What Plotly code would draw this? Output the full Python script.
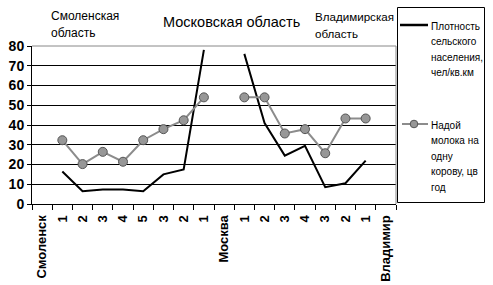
import plotly.graph_objects as go

categories = ["Смоленск", "1", "2", "3", "4", "5", "3", "2", "1", "Москва",
              "1", "2", "3", "4", "3", "2", "1", "Владимир"]
density = [None, 16.5, 6.5, 7.3, 7.3, 6.5, 15, 17.5, 78, None,
           76, 41, 24.5, 29.5, 8.5, 10.5, 22, None]
milk = [None, 32.3, 20.2, 26.4, 21.4, 32.3, 37.9, 42.4, 54, None,
        54, 54, 35.7, 37.9, 25.7, 43.3, 43.3, None]
y_ticks = [0, 10, 20, 30, 40, 50, 60, 70, 80]
legend_density = ["Плотность", "сельского", "населения,", "чел/кв.км"]
legend_milk = ["Надой", "молока на", "одну", "корову, цв", "год"]

xs = list(range(len(categories)))
FONT = "Liberation Sans, Arial, sans-serif"
BLACK_LINE = "black"
GRAY_LINE = "#8c8c8c"
MARKER_FILL = "#979797"
MARKER_EDGE = "#555555"

fig = go.Figure()
fig.add_trace(go.Scatter(x=xs, y=density, mode="lines", name=" ".join(legend_density),
                         line=dict(color=BLACK_LINE, width=2), showlegend=False,
                         connectgaps=False))
fig.add_trace(go.Scatter(x=xs, y=milk, mode="lines+markers", name=" ".join(legend_milk),
                         line=dict(color=GRAY_LINE, width=2), showlegend=False,
                         marker=dict(size=9, color=MARKER_FILL,
                                     line=dict(color=MARKER_EDGE, width=1)),
                         connectgaps=False))

W, H = 493, 285
L, R, T, B = 32, 97, 46, 81
pw, ph = W - L - R, H - T - B

def px(xp):
    return (xp - L) / pw

def py(yp):
    return (H - B - yp) / ph

ann_font = dict(family=FONT, size=12, color="black")
ann_font_r = dict(family=FONT, size=11.6, color="black")
annotations = [
    dict(text="Смоленская", x=px(49), y=py(16), xanchor="left", yanchor="middle", font=ann_font),
    dict(text="область", x=px(49), y=py(33), xanchor="left", yanchor="middle", font=ann_font),
    dict(text="Московская область", x=px(161), y=py(22), xanchor="left", yanchor="middle",
         font=dict(family=FONT, size=14.5, color="black")),
    dict(text="Владимирская", x=px(313), y=py(16), xanchor="left", yanchor="middle", font=ann_font_r),
    dict(text="область", x=px(313), y=py(33), xanchor="left", yanchor="middle", font=ann_font_r),
]

# manual legend (box, symbols, wrapped labels)
leg_font = dict(family=FONT, size=10, color="black")
line_gap = 15.6
for i, t in enumerate(legend_density):
    annotations.append(dict(text=t, x=px(429), y=py(26 + i * line_gap),
                            xanchor="left", yanchor="middle", font=leg_font))
for i, t in enumerate(legend_milk):
    annotations.append(dict(text=t, x=px(429), y=py(125 + i * line_gap),
                            xanchor="left", yanchor="middle", font=leg_font))
for a in annotations:
    a.update(xref="paper", yref="paper", showarrow=False)

mx, my, mr = 414, 124, 3.8
shapes = [
    dict(type="line", xref="paper", yref="paper", x0=0, x1=1, y0=1, y1=1,
         line=dict(color="#888888", width=1)),
    dict(type="line", xref="paper", yref="paper", x0=1, x1=1, y0=0, y1=1,
         line=dict(color="#888888", width=1)),
    dict(type="rect", xref="paper", yref="paper", x0=px(397.5), x1=px(484.5),
         y0=py(202.5), y1=py(7.5), line=dict(color="black", width=1),
         fillcolor="white", layer="above"),
    dict(type="line", xref="paper", yref="paper", x0=px(400), x1=px(428),
         y0=py(25), y1=py(25), line=dict(color=BLACK_LINE, width=2.5)),
    dict(type="line", xref="paper", yref="paper", x0=px(402), x1=px(428),
         y0=py(124), y1=py(124), line=dict(color=GRAY_LINE, width=2)),
    dict(type="circle", xref="paper", yref="paper", x0=px(mx - mr), x1=px(mx + mr),
         y0=py(my + mr), y1=py(my - mr), fillcolor=MARKER_FILL,
         line=dict(color=MARKER_EDGE, width=1)),
]

fig.update_layout(
    width=W, height=H,
    margin=dict(l=L, r=R, t=T, b=B, autoexpand=False),
    plot_bgcolor="white", paper_bgcolor="white",
    font=dict(family=FONT, color="black"),
    showlegend=False,
    annotations=annotations,
    shapes=shapes,
)
fig.update_xaxes(range=[-0.5, len(categories) - 0.5], tickmode="array",
                 tickvals=xs, ticktext=categories, tickangle=-90, ticks="",
                 showgrid=False, zeroline=False, showline=True, linecolor="black",
                 linewidth=1, ticklabelstandoff=5,
                 tickfont=dict(family=FONT, size=13, color="black", weight="bold"),
                 minor=dict(tick0=-0.5, dtick=1, ticks="outside", ticklen=5,
                            tickcolor="black", showgrid=False))
fig.update_yaxes(range=[0, 80], tickmode="array", tickvals=y_ticks,
                 showgrid=True, gridcolor="black", gridwidth=1, zeroline=False,
                 showline=True, linecolor="black", linewidth=1,
                 ticks="outside", ticklen=4, tickcolor="black",
                 tickfont=dict(family=FONT, size=14, color="black", weight="bold"))

fig.write_html("out.html")
